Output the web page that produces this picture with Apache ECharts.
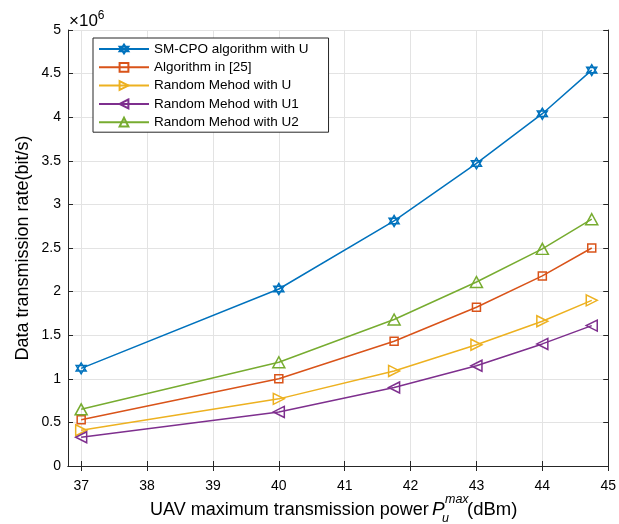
<!DOCTYPE html>
<html>
<head>
<meta charset="utf-8">
<script src="https://cdn.jsdelivr.net/npm/echarts@6/dist/echarts.min.js"></script>
<style>html,body{margin:0;padding:0;background:#fff;}#c{width:619px;height:524px;}</style>
</head>
<body>
<div id="c"></div>
<script>
var xValues = [37, 40, 41.75, 43, 44, 44.75];
var xTicks = [37, 38, 39, 40, 41, 42, 43, 44, 45];
var seriesNames = ['SM-CPO algorithm with U', 'Algorithm in [25]', 'Random Mehod with U', 'Random Mehod with U1', 'Random Mehod with U2'];
var smcpo = [1.12, 2.03, 2.81, 3.47, 4.04, 4.54];
var alg25 = [0.53, 1.00, 1.43, 1.82, 2.18, 2.50];
var randU = [0.41, 0.77, 1.09, 1.39, 1.66, 1.90];
var randU1 = [0.33, 0.62, 0.90, 1.15, 1.40, 1.61];
var randU2 = [0.65, 1.19, 1.68, 2.11, 2.49, 2.83];

var colors = ['#0072BD', '#D95319', '#EDB120', '#7E2F8E', '#77AC30'];
var symbols = [
  'path://M0,-1L0.866,0.5L-0.866,0.5ZM0,1L0.866,-0.5L-0.866,-0.5Z',
  'rect',
  'path://M0,0L10,5L0,10Z',
  'path://M10,0L0,5L10,10Z',
  'path://M5,0L10,9L0,9Z'
];
var sizes = [[10, 11], 8, [11, 11], [11, 11], [12, 11]];
var allData = [smcpo, alg25, randU, randU1, randU2];

function pairs(arr) { return xValues.map(function (x, i) { return [x, arr[i]]; }); }

var series = allData.map(function (d, i) {
  return {
    name: seriesNames[i], type: 'line', data: pairs(d),
    symbol: symbols[i], symbolSize: sizes[i],
    lineStyle: { color: colors[i], width: 1.5 },
    itemStyle: { color: 'rgba(255,255,255,0)', borderColor: colors[i], borderWidth: 1.5 },
    emphasis: { disabled: true }, animation: false, z: 3
  };
});

var font = 'Liberation Sans, Arial, Helvetica, sans-serif';
var axisCol = '#262626';
var chart = echarts.init(document.getElementById('c'), null, { renderer: 'canvas' });
chart.setOption({
  backgroundColor: '#fff',
  animation: false,
  grid: { left: 68, right: 8, top: 30, bottom: 58, containLabel: false },
  legend: {
    orient: 'vertical', left: 93, top: 38,
    data: seriesNames,
    itemWidth: 50, itemHeight: 11, itemGap: 4.3,
    padding: [4, 20, 3, 5],
    backgroundColor: '#fff', borderColor: '#262626', borderWidth: 1,
    textStyle: { fontFamily: font, fontSize: 13.5, color: '#000' }
  },
  xAxis: [{
    type: 'value', min: 36.8, max: 45,
    axisLine: { show: true, lineStyle: { color: axisCol, width: 1 } },
    axisTick: { show: true, inside: true, length: 5, customValues: xTicks, lineStyle: { color: axisCol } },
    axisLabel: { customValues: xTicks, fontFamily: font, fontSize: 14, color: '#000', margin: 13 },
    splitLine: { show: true, lineStyle: { color: '#e3e3e3', width: 1 } }
  }, {
    type: 'value', min: 36.8, max: 45, position: 'top',
    axisLine: { show: true, lineStyle: { color: axisCol, width: 1 } },
    axisTick: { show: true, inside: true, length: 5, customValues: xTicks, lineStyle: { color: axisCol } },
    axisLabel: { show: false, customValues: xTicks },
    splitLine: { show: false }
  }],
  yAxis: [{
    type: 'value', min: 0, max: 5, interval: 0.5,
    axisLine: { show: true, lineStyle: { color: axisCol, width: 1 } },
    axisTick: { show: true, inside: true, length: 5, lineStyle: { color: axisCol } },
    axisLabel: { fontFamily: font, fontSize: 14, color: '#000', margin: 7, padding: [6, 0, 0, 0] },
    splitLine: { show: true, lineStyle: { color: '#e3e3e3', width: 1 } }
  }, {
    type: 'value', min: 0, max: 5, interval: 0.5, position: 'right',
    axisLine: { show: true, lineStyle: { color: axisCol, width: 1 } },
    axisTick: { show: true, inside: true, length: 5, lineStyle: { color: axisCol } },
    axisLabel: { show: false },
    splitLine: { show: false }
  }],
  graphic: [
    { type: 'text', left: 69, top: 10, style: { rich: { a: { fontFamily: font, fontSize: 17, fill: '#000' }, s: { fontFamily: font, fontSize: 12, fill: '#000', padding: [0, 0, 10, 0] } }, text: '{a|×10}{s|6}' } },
    { type: 'text', x: 23, y: 248, rotation: Math.PI / 2, style: { text: 'Data transmission rate(bit/s)', fontFamily: font, fontSize: 18, fill: '#000', align: 'center', verticalAlign: 'middle' } },
    { type: 'text', x: 150, y: 510, style: { text: 'UAV maximum transmission power', fontFamily: font, fontSize: 18, fill: '#000', align: 'left', verticalAlign: 'middle' } },
    { type: 'text', x: 432, y: 510, style: { text: 'P', fontFamily: font, fontStyle: 'italic', fontSize: 19, fill: '#000', align: 'left', verticalAlign: 'middle' } },
    { type: 'text', x: 445, y: 500, style: { text: 'max', fontFamily: font, fontStyle: 'italic', fontSize: 12.5, fill: '#000', align: 'left', verticalAlign: 'middle' } },
    { type: 'text', x: 442, y: 519, style: { text: 'u', fontFamily: font, fontStyle: 'italic', fontSize: 12.5, fill: '#000', align: 'left', verticalAlign: 'middle' } },
    { type: 'text', x: 467, y: 510, style: { text: '(dBm)', fontFamily: font, fontSize: 18.5, fill: '#000', align: 'left', verticalAlign: 'middle' } }
  ],
  series: series
});
</script>
</body>
</html>
